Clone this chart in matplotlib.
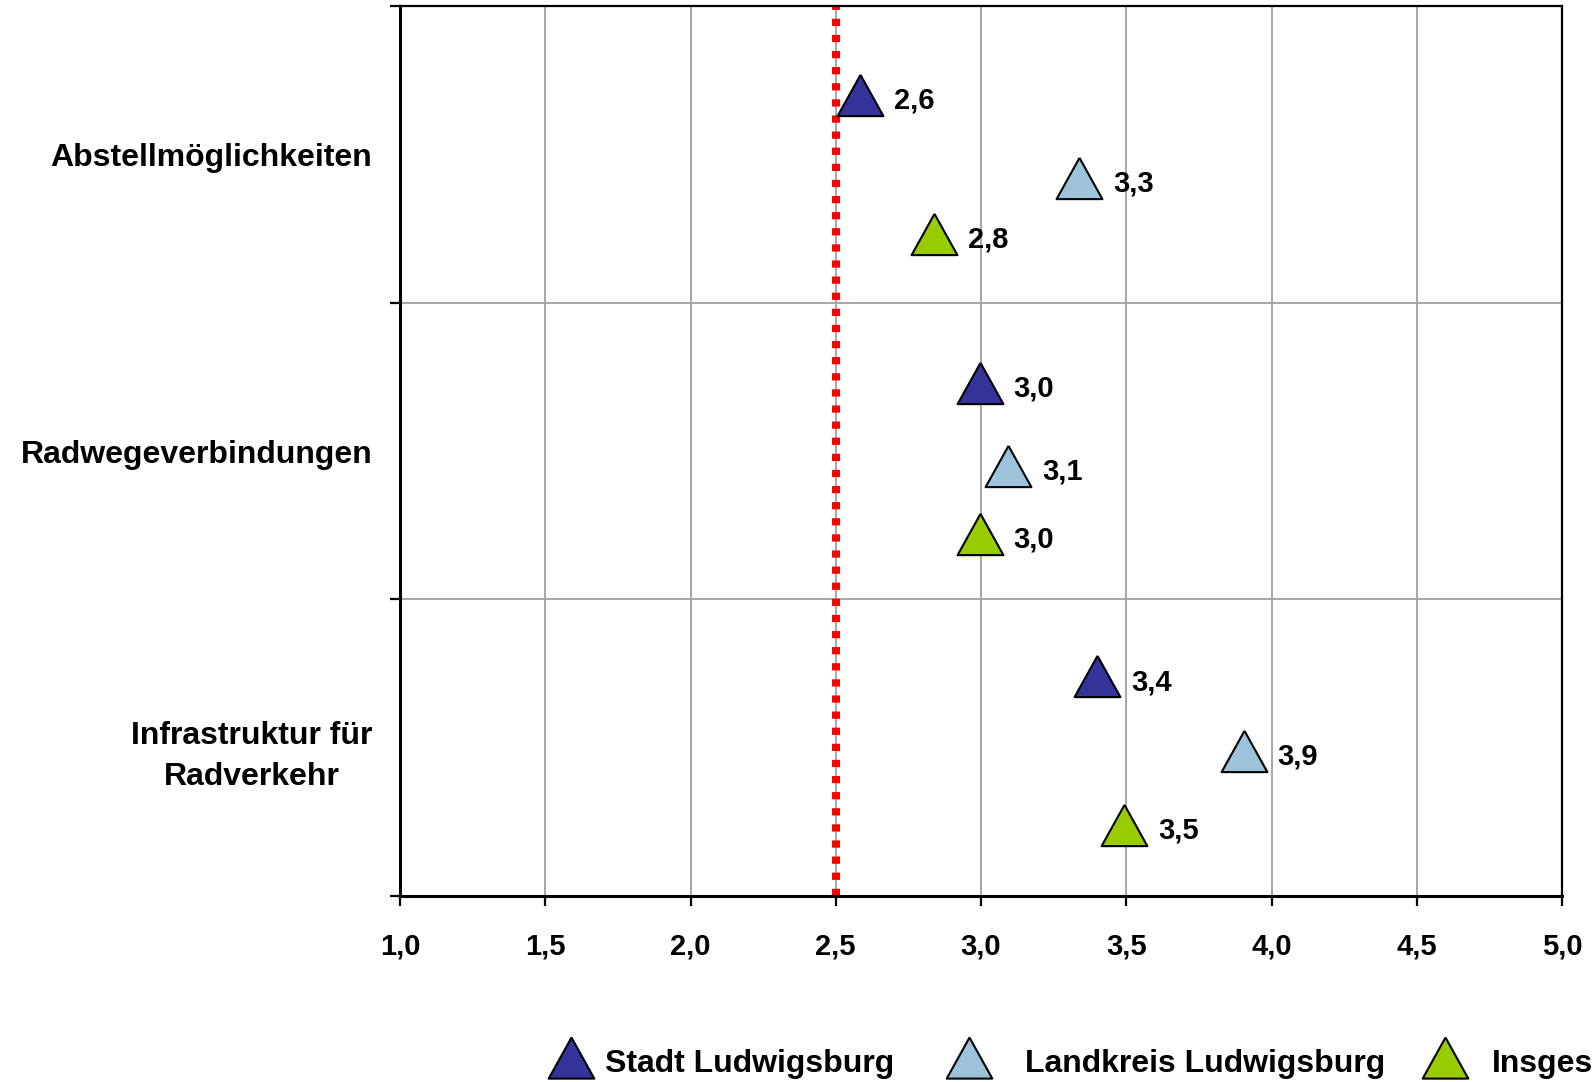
import matplotlib
matplotlib.use("Agg")
import matplotlib.pyplot as plt
from matplotlib.lines import Line2D

plt.rcParams['font.family'] = ['Liberation Sans', 'DejaVu Sans']
plt.rcParams['font.weight'] = 'bold'

# Bewertung (1 = sehr gut ... 5 = schlecht)
categories = ["Abstellmöglichkeiten", "Radwegeverbindungen", "Infrastruktur für\nRadverkehr"]
series_names = ["Stadt Ludwigsburg", "Landkreis Ludwigsburg", "Insgesamt"]
stadt_values = [2.585, 2.995, 3.40]
landkreis_values = [3.337, 3.094, 3.904]
insgesamt_values = [2.837, 2.995, 3.492]
# vertical placement of each series inside its category band
stadt_rows = [0.30, 1.27, 2.26]
landkreis_rows = [0.58, 1.55, 2.51]
insgesamt_rows = [0.77, 1.78, 2.76]
reference_value = 2.5
x_ticks = [1.0, 1.5, 2.0, 2.5, 3.0, 3.5, 4.0, 4.5, 5.0]

colors = ["#333399", "#9DC3DA", "#99CC00"]
tri = [(0, 0.9), (-1, -0.9), (1, -0.9), (0, 0.9)]
# same triangle, drawn slightly raised for the legend entries
tri_legend = [(0, 1.05), (-1, -0.75), (1, -0.75), (0, 1.05)]

fig = plt.figure(figsize=(15.92, 10.82), dpi=100)
ax = fig.add_axes([400 / 1592, 1 - 896 / 1082, 1162 / 1592, 890 / 1082])

ax.set_xlim(1.0, 5.0)
ax.set_ylim(3, 0)

# grid
for x in x_ticks[1:-1]:
    ax.axvline(x, color="#A0A0A0", lw=1.3, zorder=1)
for y in [1, 2]:
    ax.axhline(y, color="#A0A0A0", lw=1.3, zorder=1)

# reference line
ax.axvline(reference_value, color="#FF0000", lw=5.8, linestyle=(0, (0.9, 1.1)), zorder=2)

all_values = [stadt_values, landkreis_values, insgesamt_values]
all_rows = [stadt_rows, landkreis_rows, insgesamt_rows]
for name, vals, rows, c in zip(series_names, all_values, all_rows, colors):
    ax.plot(vals, rows, linestyle="none", marker=tri, markersize=33, markerfacecolor=c,
            markeredgecolor="black", markeredgewidth=1.5, zorder=4, label=name)
    for v, r in zip(vals, rows):
        ax.annotate(f"{v:.1f}".replace(".", ","), (v, r), xytext=(24.5, -4),
                    textcoords="offset points", ha="left", va="center",
                    fontsize=21, fontweight="bold", zorder=5)

# axes frame
for side in ["left", "bottom"]:
    ax.spines[side].set_linewidth(2.2)
for side in ["top", "right"]:
    ax.spines[side].set_linewidth(1.6)

ax.set_xticks(x_ticks)
ax.set_xticklabels([f"{x:.1f}".replace(".", ",") for x in x_ticks], fontsize=21, fontweight="bold")
ax.tick_params(axis="x", direction="out", length=7, width=1.6, pad=19)

ax.set_yticks([0, 1, 2, 3])
ax.set_yticklabels([])
ax.tick_params(axis="y", which="major", direction="out", length=7, width=1.6)
ax.set_yticks([0.5, 1.5, 2.5], minor=True)
ax.set_yticklabels(categories, minor=True, fontsize=23, fontweight="bold",
                   multialignment="center", linespacing=1.45)
ax.tick_params(axis="y", which="minor", length=0, pad=20)

# legend entries along the bottom edge
legend_x = [549, 947, 1423]
legend_pad = [0.35, 1.04, 0.75]
for name, c, lx, pad in zip(series_names, colors, legend_x, legend_pad):
    h = Line2D([], [], linestyle="none", marker=tri_legend, markersize=34.5,
               markerfacecolor=c, markeredgecolor="black", markeredgewidth=1.5)
    fig.legend([h], [name], loc="center left", bbox_to_anchor=(lx / 1592, 1 - 1064 / 1082),
               frameon=False, handlelength=1.4, handletextpad=pad, borderaxespad=0,
               borderpad=0, prop={"weight": "bold", "size": 23})

fig.savefig("out.png", dpi=100)
